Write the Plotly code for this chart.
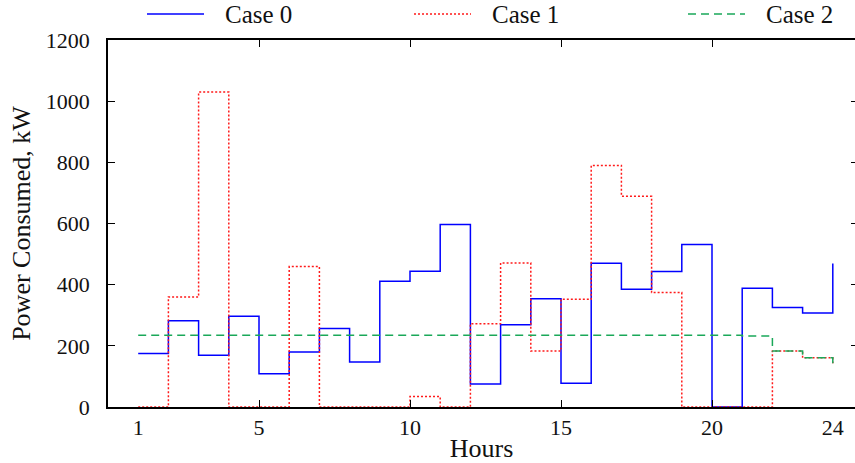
import plotly.graph_objects as go

# Hourly power demand for the three operating cases
hours = list(range(1, 25))
case0 = [175, 282, 169, 297, 109, 180, 257, 147, 411, 444, 597, 75,
         269, 354, 78, 470, 385, 443, 531, 0, 388, 325, 307, 469]
case1 = [0, 360, 1030, 0, 0, 459, 0, 0, 0, 34, 0, 272,
         471, 183, 352, 790, 689, 374, 0, 0, 0, 183, 161, 143]
case2 = [235, 235, 235, 235, 235, 235, 235, 235, 235, 235, 235, 235,
         235, 235, 235, 235, 235, 235, 235, 235, 232, 183, 161, 143]

series_names = ["Case 0", "Case 1", "Case 2"]
x_tick_vals = [1, 5, 10, 15, 20, 24]
y_tick_vals = [0, 200, 400, 600, 800, 1000, 1200]

FONT = "Liberation Serif"
TEXT = "#111"

# plot-area geometry in pixels
L, T, W, H = 108, 40, 747, 367

fig = go.Figure()
styles = [
    dict(color="#0000ff", width=1.5, dash="solid"),
    dict(color="#ff1a1a", width=1.5, dash="2px,2px"),
    dict(color="#1aa859", width=1.5, dash="8px,5px"),
]
for name, vals, st in zip(series_names, [case0, case1, case2], styles):
    fig.add_trace(go.Scatter(
        x=hours, y=vals, mode="lines", name=name,
        line=dict(shape="hv", **st), showlegend=False,
    ))

# invisible helper trace carrying the right-hand tick axis
fig.add_trace(go.Scatter(x=[hours[0]], y=[0], xaxis="x", yaxis="y2",
                         mode="markers", marker=dict(opacity=0),
                         showlegend=False, hoverinfo="skip"))

# key row above the plot: long line samples followed by the series names
key_line_px = [(147, 204), (414, 471), (688, 745)]
key_y = (T + H - 14) / H
for name, st, (x0, x1) in zip(series_names, styles, key_line_px):
    fig.add_shape(type="line", xref="paper", yref="paper",
                  x0=(x0 - L) / W, x1=(x1 - L) / W, y0=key_y, y1=key_y,
                  line=dict(color=st["color"], width=st["width"], dash=st["dash"]))
    fig.add_annotation(xref="paper", yref="paper", x=(x1 + 19 - L) / W, y=key_y,
                       xanchor="left", yanchor="middle", showarrow=False,
                       text=name, font=dict(family=FONT, size=25, color=TEXT))

fig.update_layout(
    width=855, height=463,
    margin=dict(l=L, r=855 - L - W, t=T, b=463 - T - H, autoexpand=False),
    paper_bgcolor="white", plot_bgcolor="white",
    font=dict(family=FONT, size=22, color=TEXT),
    showlegend=False,
    xaxis=dict(
        range=[0, W / 30.2],
        tickvals=x_tick_vals, ticks="",
        minor=dict(tickvals=[5, 10, 15, 20], ticks="inside", ticklen=7,
                   tickwidth=1, tickcolor="black", showgrid=False),
        showline=True, linecolor="black", linewidth=1.5, mirror="ticks",
        showgrid=False, zeroline=False,
        ticklabelstandoff=0,
        tickfont=dict(family=FONT, size=22, color=TEXT),
        title=dict(text="Hours", font=dict(family=FONT, size=26, color=TEXT),
                   standoff=0),
    ),
    yaxis=dict(
        range=[0, 1200], tickvals=y_tick_vals,
        ticks="inside", ticklen=7, tickwidth=1, tickcolor="black",
        showline=True, linecolor="black", linewidth=1.5,
        showgrid=False, zeroline=False,
        ticklabelstandoff=12,
        tickfont=dict(family=FONT, size=22, color=TEXT),
        title=dict(text="Power Consumed, kW",
                   font=dict(family=FONT, size=26, color=TEXT),
                   standoff=8),
    ),
    yaxis2=dict(
        range=[0, 1200], tickvals=y_tick_vals, overlaying="y", side="right",
        ticks="inside", ticklen=4, tickwidth=1, tickcolor="black",
        showticklabels=False, showline=False, showgrid=False, zeroline=False,
    ),
)

fig.write_html("out.html")
